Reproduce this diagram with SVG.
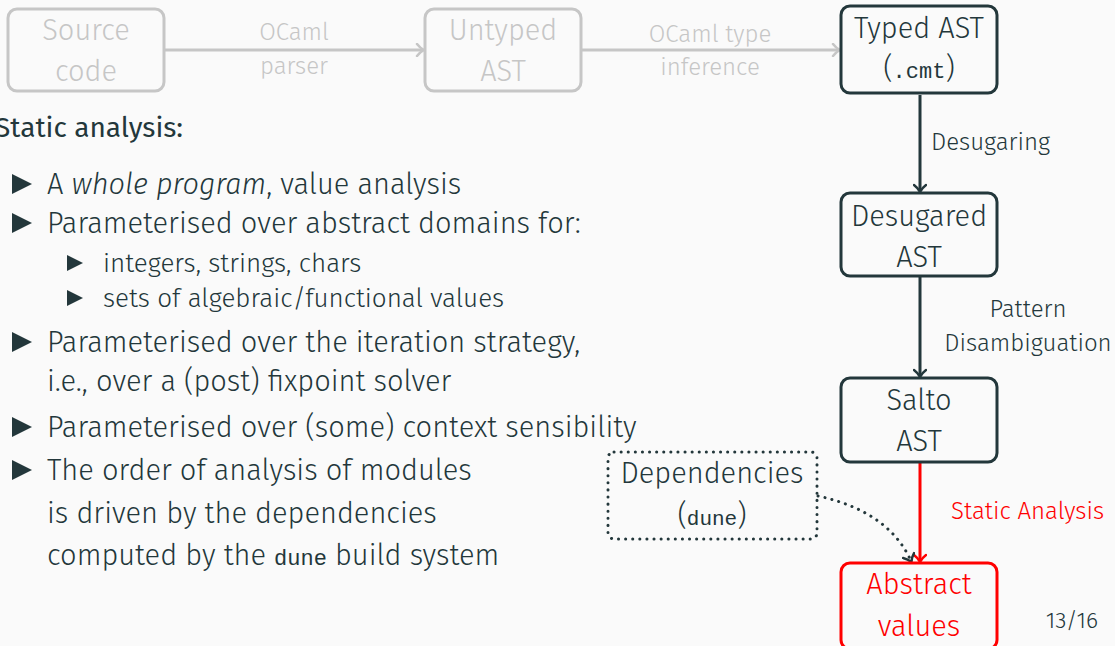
<svg xmlns="http://www.w3.org/2000/svg" width="1115" height="646" viewBox="0 0 1115 646">
<style>
text{font-family:"Fira Sans","Open Sans","Liberation Sans",sans-serif;font-weight:300;fill:#23373b}
.body{font-size:29px}
.sub{font-size:26px}
.node{font-size:29px;text-anchor:middle}
.lbl{font-size:24px}
.gray{fill:#c6c6c6}
.red{fill:#ff0000}
.mono{font-family:"Liberation Mono","DejaVu Sans Mono",monospace;font-weight:400}
.box{fill:none;stroke-width:3}
</style>
<defs>
<marker id="ag" markerWidth="12" markerHeight="14" refX="9" refY="7" orient="auto" markerUnits="userSpaceOnUse"><path d="M3,1 Q6,5 10,7 Q6,9 3,13" fill="none" stroke="#c6c6c6" stroke-width="2.5" stroke-linecap="round"/></marker>
<marker id="ad" markerWidth="12" markerHeight="14" refX="9" refY="7" orient="auto" markerUnits="userSpaceOnUse"><path d="M3,1 Q6,5 10,7 Q6,9 3,13" fill="none" stroke="#23373b" stroke-width="2.5" stroke-linecap="round"/></marker>
<marker id="ar" markerWidth="12" markerHeight="14" refX="9" refY="7" orient="auto" markerUnits="userSpaceOnUse"><path d="M3,1 Q6,5 10,7 Q6,9 3,13" fill="none" stroke="#ff0000" stroke-width="2.5" stroke-linecap="round"/></marker>
<path id="tri" d="M0,0 L20,10 L0,20 Z" fill="#23373b"/>
<path id="tris" d="M0,0 L16,8 L0,16 Z" fill="#23373b"/>
</defs>
<rect width="1115" height="646" fill="#fafafa"/>

<g id="connectors">
<line x1="165" y1="50" x2="423" y2="50" stroke="#c6c6c6" stroke-width="3" marker-end="url(#ag)"/>
<line x1="582" y1="50" x2="839" y2="50" stroke="#c6c6c6" stroke-width="3" marker-end="url(#ag)"/>
<line x1="920" y1="95" x2="920" y2="191" stroke="#23373b" stroke-width="3" marker-end="url(#ad)"/>
<line x1="920" y1="277" x2="920" y2="376" stroke="#23373b" stroke-width="3" marker-end="url(#ad)"/>
<line x1="920" y1="463" x2="920" y2="561" stroke="#ff0000" stroke-width="3" marker-end="url(#ar)"/>
<path d="M818,496 C860,505 895,525 911,561" fill="none" stroke="#23373b" stroke-width="3" stroke-dasharray="0.1 7" stroke-linecap="round" marker-end="url(#ad)"/>
<text class="lbl gray" x="294" y="40" text-anchor="middle">OCaml</text>
<text class="lbl gray" x="294" y="74" text-anchor="middle">parser</text>
<text class="lbl gray" x="710" y="42" text-anchor="middle">OCaml type</text>
<text class="lbl gray" x="710" y="75" text-anchor="middle">inference</text>
<text class="lbl" x="931" y="150">Desugaring</text>
<text class="lbl" x="1028" y="317" text-anchor="middle">Pattern</text>
<text class="lbl" x="1028" y="351" text-anchor="middle">Disambiguation</text>
<text class="lbl red" x="951" y="519">Static Analysis</text>
</g>

<g id="source">
<rect class="box" x="8" y="9" width="156" height="82" rx="9" stroke="#c6c6c6"/>
<text class="node gray" x="86" y="40">Source</text>
<text class="node gray" x="86" y="81">code</text>
</g>
<g id="untyped">
<rect class="box" x="425" y="9" width="156" height="82" rx="9" stroke="#c6c6c6"/>
<text class="node gray" x="503" y="40">Untyped</text>
<text class="node gray" x="503" y="81">AST</text>
</g>
<g id="typed">
<rect class="box" x="841" y="6" width="156" height="87" rx="9" stroke="#23373b"/>
<text class="node" x="919" y="38">Typed AST</text>
<text class="node" x="919" y="78"><tspan>(</tspan><tspan class="mono" font-size="22">.cmt</tspan><tspan>)</tspan></text>
</g>
<g id="desugared">
<rect class="box" x="841" y="193" width="156" height="83" rx="9" stroke="#23373b"/>
<text class="node" x="919" y="226">Desugared</text>
<text class="node" x="919" y="267">AST</text>
</g>
<g id="salto">
<rect class="box" x="841" y="378" width="156" height="84" rx="9" stroke="#23373b"/>
<text class="node" x="919" y="410">Salto</text>
<text class="node" x="919" y="451">AST</text>
</g>
<g id="abstract">
<rect class="box" x="841" y="563" width="156" height="86" rx="9" stroke="#ff0000"/>
<text class="node red" x="919" y="594">Abstract</text>
<text class="node red" x="919" y="636">values</text>
</g>
<g id="dependencies">
<rect class="box" x="608" y="452" width="209" height="87" rx="6" stroke="#23373b" stroke-dasharray="0.1 7" stroke-linecap="round"/>
<text class="node" x="712" y="483">Dependencies</text>
<text class="node" x="712" y="525"><tspan>(</tspan><tspan class="mono" font-size="21">dune</tspan><tspan>)</tspan></text>
</g>

<g id="text">
<text x="-5" y="137" style="font-weight:400;font-size:28px">Static analysis:</text>
<use href="#tri" x="12" y="174"/>
<text class="body" x="47" y="194">A <tspan font-style="italic">whole program</tspan>, value analysis</text>
<use href="#tri" x="12" y="213"/>
<text class="body" x="47" y="233">Parameterised over abstract domains for:</text>
<use href="#tris" x="67" y="255"/>
<text class="sub" x="103" y="272">integers, strings, chars</text>
<use href="#tris" x="67" y="290"/>
<text class="sub" x="103" y="307">sets of algebraic/functional values</text>
<use href="#tri" x="12" y="332"/>
<text class="body" x="47" y="352">Parameterised over the iteration strategy,</text>
<text class="body" x="47" y="391">i.e., over a (post) fixpoint solver</text>
<use href="#tri" x="12" y="417"/>
<text class="body" x="47" y="437">Parameterised over (some) context sensibility</text>
<use href="#tri" x="12" y="460"/>
<text class="body" x="47" y="480">The order of analysis of modules</text>
<text class="body" x="47" y="523">is driven by the dependencies</text>
<text class="body" x="47" y="565">computed by the <tspan class="mono" font-size="22">dune</tspan> build system</text>
<text class="lbl" x="1098" y="628" text-anchor="end" style="font-size:23px">13/16</text>
</g>
</svg>
